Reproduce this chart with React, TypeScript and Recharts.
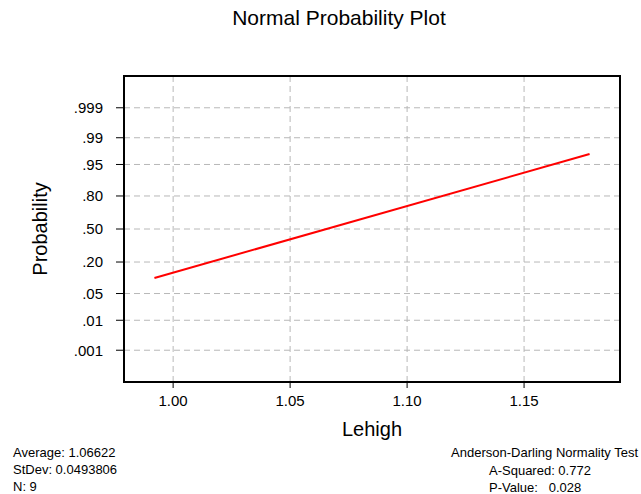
import {
  LineChart,
  Line,
  XAxis,
  YAxis,
  CartesianGrid,
  ReferenceArea,
} from 'recharts';

// fitted line (x value, cumulative probability)
const lineX = [0.992, 1.178];
const lineP = [0.106, 0.972];

// axes
const xTicks = [1.0, 1.05, 1.1, 1.15];
const xDomain = [0.979, 1.191];
const yTickP = [0.001, 0.01, 0.05, 0.2, 0.5, 0.8, 0.95, 0.99, 0.999];
const yTickLabels = ['.001', '.01', '.05', '.20', '.50', '.80', '.95', '.99', '.999'];
const zDomain = [-3.9, 3.9];

// footer statistics
const statsLeft = ['Average: 1.06622', 'StDev: 0.0493806', 'N: 9'];
const statsRightTitle = 'Anderson-Darling Normality Test';
const statsRight = ['A-Squared: 0.772', 'P-Value:   0.028'];

// inverse normal CDF (Acklam)
function probit(p: number): number {
  const a = [-39.69683028665376, 220.9460984245205, -275.9285104469687, 138.357751867269, -30.66479806614716, 2.506628277459239];
  const b = [-54.47609879822406, 161.5858368580409, -155.6989798598866, 66.80131188771972, -13.28068155288572];
  const c = [-0.007784894002430293, -0.3223964580411365, -2.400758277161838, -2.549732539343734, 4.374664141464968, 2.938163982698783];
  const d = [0.007784695709041462, 0.3224671290700398, 2.445134137142996, 3.754408661907416];
  const pl = 0.02425;
  if (p < pl) {
    const q = Math.sqrt(-2 * Math.log(p));
    return (((((c[0] * q + c[1]) * q + c[2]) * q + c[3]) * q + c[4]) * q + c[5]) /
      ((((d[0] * q + d[1]) * q + d[2]) * q + d[3]) * q + 1);
  }
  if (p > 1 - pl) {
    const q = Math.sqrt(-2 * Math.log(1 - p));
    return -(((((c[0] * q + c[1]) * q + c[2]) * q + c[3]) * q + c[4]) * q + c[5]) /
      ((((d[0] * q + d[1]) * q + d[2]) * q + d[3]) * q + 1);
  }
  const q = p - 0.5;
  const r = q * q;
  return (((((a[0] * r + a[1]) * r + a[2]) * r + a[3]) * r + a[4]) * r + a[5]) * q /
    (((((b[0] * r + b[1]) * r + b[2]) * r + b[3]) * r + b[4]) * r + 1);
}

const chartData = lineX.map((x, i) => ({ x, z: probit(lineP[i]) }));
const yTicks = yTickP.map(probit);

const font = '"Liberation Sans", Arial, sans-serif';

export default function App() {
  return (
    <div
      style={{
        position: 'absolute',
        left: 0,
        top: 0,
        width: 641,
        height: 494,
        background: '#fff',
        fontFamily: font,
        color: '#000',
      }}
    >
      <div
        style={{
          position: 'absolute',
          left: 189,
          top: 6,
          width: 300,
          textAlign: 'center',
          fontSize: 21,
          lineHeight: '24px',
          whiteSpace: 'nowrap',
        }}
      >
        Normal Probability Plot
      </div>

      <LineChart
        width={641}
        height={494}
        data={chartData}
        margin={{ top: 76, right: 21, left: 40, bottom: 82 }}
      >
        <CartesianGrid stroke="#b8b8b8" strokeDasharray="6 4" />
        <XAxis
          dataKey="x"
          type="number"
          domain={xDomain}
          ticks={xTicks}
          allowDataOverflow
          height={30}
          tickFormatter={(v: number) => v.toFixed(2)}
          tick={{ fill: '#000', fontSize: 15 }}
          tickSize={6}
          tickMargin={7}
          tickLine={{ stroke: '#000' }}
          axisLine={{ stroke: '#000', strokeWidth: 2 }}
          label={{
            value: 'Lehigh',
            position: 'bottom',
            offset: 10,
            fill: '#000',
            fontSize: 20,
          }}
        />
        <YAxis
          dataKey="z"
          type="number"
          domain={zDomain}
          ticks={yTicks}
          allowDataOverflow
          width={84}
          tickFormatter={(v: number) => yTickLabels[yTicks.findIndex((t) => Math.abs(t - v) < 1e-6)] ?? ''}
          tick={{ fill: '#000', fontSize: 15 }}
          tickSize={8}
          tickMargin={13}
          tickLine={{ stroke: '#000' }}
          axisLine={{ stroke: '#000', strokeWidth: 2 }}
          label={{
            value: 'Probability',
            angle: -90,
            position: 'insideLeft',
            offset: 0,
            fill: '#000',
            fontSize: 20,
            style: { textAnchor: 'middle' },
          }}
        />
        <ReferenceArea
          x1={xDomain[0]}
          x2={xDomain[1]}
          y1={zDomain[0]}
          y2={zDomain[1]}
          fill="none"
          stroke="#000"
          strokeWidth={2}
          ifOverflow="visible"
        />
        <Line
          type="linear"
          dataKey="z"
          stroke="#ff0000"
          strokeWidth={2}
          dot={false}
          isAnimationActive={false}
        />
      </LineChart>

      <div
        style={{
          position: 'absolute',
          left: 13,
          top: 444,
          fontSize: 13,
          lineHeight: '17px',
          whiteSpace: 'pre',
        }}
      >
        {statsLeft.map((s) => (
          <div key={s}>{s}</div>
        ))}
      </div>

      <div
        style={{
          position: 'absolute',
          right: 3,
          top: 444,
          fontSize: 13,
          lineHeight: '17.5px',
          whiteSpace: 'pre',
          textAlign: 'right',
        }}
      >
        {statsRightTitle}
      </div>
      <div
        style={{
          position: 'absolute',
          left: 489,
          top: 461.5,
          fontSize: 13,
          lineHeight: '17.5px',
          whiteSpace: 'pre',
        }}
      >
        {statsRight.map((s) => (
          <div key={s}>{s}</div>
        ))}
      </div>
    </div>
  );
}
